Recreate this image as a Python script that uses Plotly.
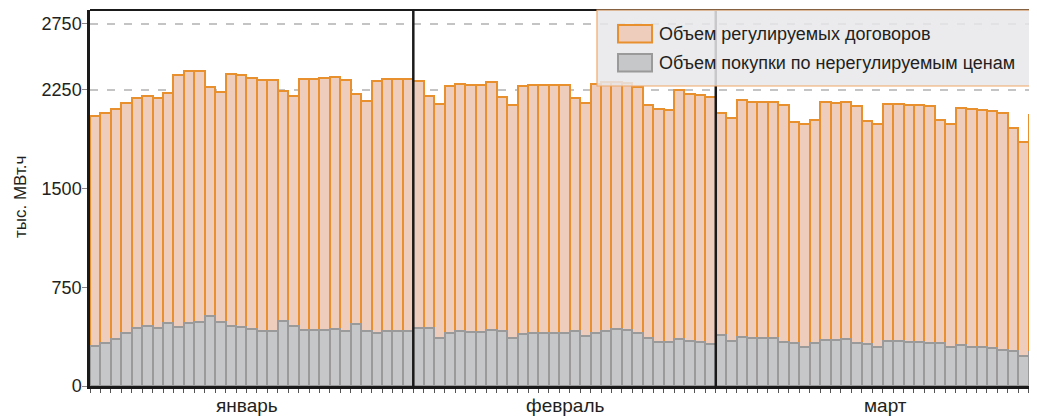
import plotly.graph_objects as go

# Daily data, Jan-Mar 2008 (thousand MWh)
months = ["январь", "февраль", "март"]
days_in_month = [31, 29, 31]

regulated_jan = [1743, 1744, 1741, 1749, 1747, 1748, 1742, 1746, 1913, 1913, 1910, 1743, 1744, 1913, 1913, 1910,
                 1910, 1910, 1744, 1746, 1908, 1908, 1913, 1915, 1910, 1749, 1744, 1915, 1915, 1918, 1918]
regulated_feb = [1879, 1768, 1769, 1875, 1877, 1873, 1873, 1880, 1771, 1764, 1880, 1882, 1880, 1880, 1882,
                 1769, 1767, 1885, 1884, 1879, 1874, 1870, 1771, 1768, 1763, 1888, 1875, 1879, 1877]
regulated_mar = [1683, 1693, 1802, 1791, 1794, 1796, 1795, 1683, 1691, 1693, 1806, 1797, 1797, 1797, 1688, 1688,
                 1801, 1796, 1801, 1802, 1799, 1693, 1688, 1794, 1801, 1799, 1799, 1797, 1698, 1626, 1799]

free_jan = [303, 328, 358, 401, 441, 457, 441, 477, 447, 477, 484, 530, 487, 457, 447, 429,
            416, 416, 494, 452, 426, 426, 426, 434, 416, 469, 416, 401, 419, 416, 416]
free_feb = [437, 437, 368, 404, 419, 411, 411, 424, 419, 366, 396, 404, 404, 404, 404,
            419, 381, 404, 421, 431, 426, 401, 361, 331, 331, 358, 343, 331, 316]
free_mar = [386, 338, 371, 366, 363, 361, 335, 323, 295, 323, 346, 351, 358, 328, 320, 298,
            341, 341, 331, 333, 328, 328, 298, 313, 298, 298, 288, 275, 263, 229, 260]

regulated = regulated_jan + regulated_feb + regulated_mar
free = free_jan + free_feb + free_mar
x = list(range(len(regulated)))

name_reg = "Объем регулируемых договоров"
name_free = "Объем покупки по нерегулируемым ценам"
y_title = "тыс. МВт.ч"
y_ticks = [0, 750, 1500, 2250, 2750]

FONT = "Liberation Sans, Arial, sans-serif"
TXT = "#231f20"
OR_FILL = "#efcdbd"
OR_LINE = "#e8902e"
GR_FILL = "#c6c7c9"
GR_LINE = "#9a9a9a"

OFF = 8  # page body margin
W, H = 1037 - OFF, 416 - OFF
L, R, T, B = 82, 0, 2, 30
PW, PH = W - L - R, H - T - B

def px_x(p):  # page pixel -> paper x
    return (p - OFF - L) / PW

def px_y(p):  # page pixel -> paper y
    return (H - B - (p - OFF)) / PH

fig = go.Figure()
fig.add_trace(go.Bar(x=x, y=regulated, base=free, name=name_reg, width=1,
                     marker=dict(color=OR_FILL, line=dict(color=OR_LINE, width=2)),
                     showlegend=False))
fig.add_trace(go.Bar(x=x, y=free, name=name_free, width=1,
                     marker=dict(color=GR_FILL, line=dict(color=GR_LINE, width=2)),
                     showlegend=False))

shapes = []
# month separators
b = -0.5
bounds = []
for d in days_in_month[:-1]:
    b += d
    bounds.append(b)
for bx in bounds:
    shapes.append(dict(type="line", xref="x", yref="paper", x0=bx, x1=bx, y0=0, y1=1,
                       line=dict(color="#1a1a1a", width=2.5), layer="above"))
# top frame line
shapes.append(dict(type="line", xref="paper", yref="paper", x0=0, x1=1, y0=1, y1=1,
                   line=dict(color="#1a1a1a", width=2), layer="above"))
# custom legend box
shapes.append(dict(type="rect", xref="paper", yref="paper", x0=px_x(597), x1=px_x(1045),
                   y0=px_y(86), y1=px_y(10), fillcolor="rgba(231,232,234,0.85)",
                   line=dict(color="#f0a868", width=1.2), layer="above"))
shapes.append(dict(type="rect", xref="paper", yref="paper", x0=px_x(618), x1=px_x(652),
                   y0=px_y(42.5), y1=px_y(25), fillcolor=OR_FILL,
                   line=dict(color=OR_LINE, width=2), layer="above"))
shapes.append(dict(type="rect", xref="paper", yref="paper", x0=px_x(618), x1=px_x(652),
                   y0=px_y(71.5), y1=px_y(54), fillcolor=GR_FILL,
                   line=dict(color=GR_LINE, width=2), layer="above"))

annotations = [
    dict(text=name_reg, xref="paper", yref="paper", x=px_x(657), y=px_y(34), xanchor="left",
         yanchor="middle", showarrow=False, font=dict(family=FONT, size=18, color=TXT)),
    dict(text=name_free, xref="paper", yref="paper", x=px_x(657), y=px_y(63), xanchor="left",
         yanchor="middle", showarrow=False, font=dict(family=FONT, size=18, color=TXT)),
    dict(text=y_title, xref="paper", yref="paper", x=px_x(20), y=px_y(197), xanchor="center",
         yanchor="middle", textangle=-90, showarrow=False, font=dict(family=FONT, size=17, color=TXT)),
]
# month labels
label_x = [14.6, 45.1, 75.8]
for m, lx in zip(months, label_x):
    annotations.append(dict(text=m, xref="x", yref="paper", x=lx, y=px_y(405), xanchor="center",
                            yanchor="middle", showarrow=False, font=dict(family=FONT, size=19, color=TXT)))

fig.update_layout(
    width=W, height=H, margin=dict(l=L, r=R, t=T, b=B, autoexpand=False),
    paper_bgcolor="white", plot_bgcolor="white",
    barmode="overlay", bargap=0,
    font=dict(family=FONT, size=18, color=TXT),
    shapes=shapes, annotations=annotations, showlegend=False,
)
fig.update_xaxes(range=[-0.5, 90.3], showgrid=False, zeroline=False,
                 showline=True, linecolor="#1a1a1a", linewidth=2.5,
                 tickvals=[], showticklabels=False,
                 minor=dict(ticks="outside", tick0=-0.5, dtick=1, ticklen=4,
                            tickcolor="#555", tickwidth=1, showgrid=False))
fig.update_yaxes(range=[0, 2854], tickvals=y_ticks, ticks="outside", ticklen=5,
                 tickcolor="#888", tickwidth=1, ticklabelstandoff=-3,
                 showgrid=True, gridcolor="#c4c4c4", gridwidth=1.5, griddash="8px,9px",
                 zeroline=False, showline=True, linecolor="#1a1a1a", linewidth=2.5,
                 tickfont=dict(family=FONT, size=18, color=TXT))

fig.write_html("out.html")
